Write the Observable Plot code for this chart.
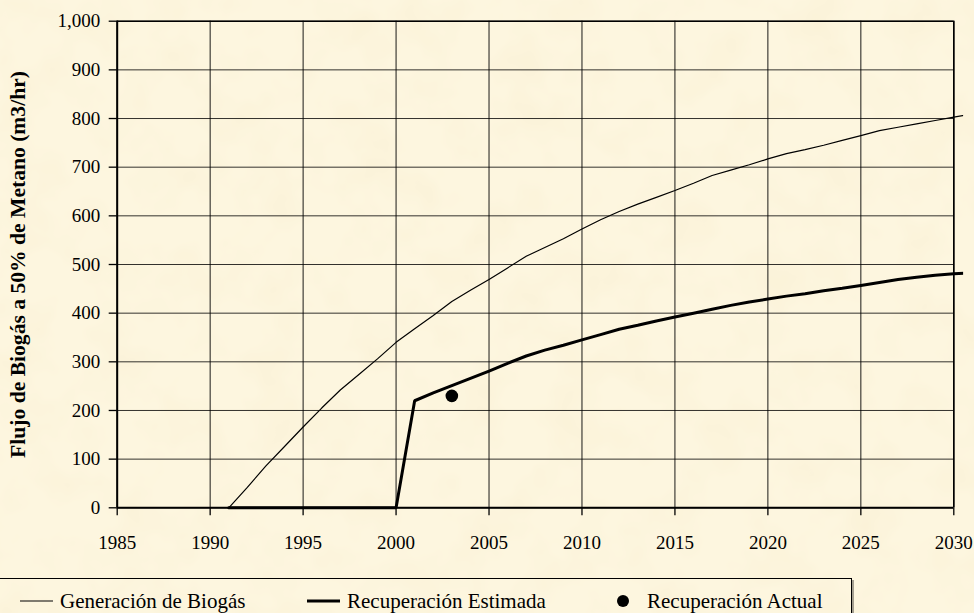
<!DOCTYPE html>
<html>
<head>
<meta charset="utf-8">
<script src="https://cdn.jsdelivr.net/npm/d3@7"></script>
<script src="https://cdn.jsdelivr.net/npm/@observablehq/plot@0.6"></script>
<style>
  html, body { margin: 0; padding: 0; }
  body {
    width: 974px; height: 613px; overflow: hidden; position: relative;
    background-color: #fdf6df;
    background-image: url("data:image/svg+xml;utf8,<svg xmlns='http://www.w3.org/2000/svg' width='974' height='613'><filter id='n'><feTurbulence type='fractalNoise' baseFrequency='0.02' numOctaves='3' seed='7'/><feColorMatrix values='0 0 0 0 0.88  0 0 0 0 0.76  0 0 0 0 0.50  0.4 0 0 0 -0.17'/></filter><rect width='100%' height='100%' filter='url(%23n)'/></svg>");
    font-family: "Liberation Serif", "Times New Roman", serif;
  }
  #chart { position: absolute; left: 0; top: 0; }
  #legend {
    position: absolute; left: -1px; top: 578px; width: 851px; height: 60px;
    border: 1px solid #000; box-shadow: 2px 2px 0 rgba(0,0,0,0.35);
  }
  #legend svg { position: absolute; left: 0; top: -1px; overflow: visible; }
</style>
</head>
<body>
<div id="chart"></div>
<div id="legend"></div>
<script>
// ---- data ----
const years = [1991,1992,1993,1994,1995,1996,1997,1998,1999,2000,
               2001,2002,2003,2004,2005,2006,2007,2008,2009,2010,
               2011,2012,2013,2014,2015,2016,2017,2018,2019,2020,
               2021,2022,2023,2024,2025,2026,2027,2028,2029,2030,2031];
const generacionBiogas = [0,42,86,126,166,205,242,274,306,340,
                          368,395,424,447,469,493,517,535,553,573,
                          592,609,624,638,652,667,683,694,705,717,
                          728,736,745,755,765,775,782,789,796,803,809];
const recuperacionEstimada = [0,0,0,0,0,0,0,0,0,0,
                              220,236,251,266,281,297,312,324,334,345,
                              356,367,375,384,392,400,408,416,423,429,
                              435,440,446,451,457,463,469,474,478,481,483];
const actualYears = [2003];
const actualValues = [230];
const xTicks = [1985,1990,1995,2000,2005,2010,2015,2020,2025,2030];
const yTicks = [0,100,200,300,400,500,600,700,800,900,1000];
const seriesLabels = ["Generación de Biogás", "Recuperación Estimada", "Recuperación Actual"];
const yTitle = ["Flujo de Biogás a 50% de Metano (m3/hr)"];

const genData = years.map((y, i) => ({year: y, value: generacionBiogas[i]}));
const recData = years.map((y, i) => ({year: y, value: recuperacionEstimada[i]}));
const actData = actualYears.map((y, i) => ({year: y, value: actualValues[i]}));

const W = 974, H = 575;
const mL = 116.7, mR = 20.7, mT = 20.7, mB = H - 507.3;

const plot = Plot.plot({
  width: W, height: H,
  marginLeft: mL, marginRight: mR, marginTop: mT, marginBottom: mB,
  style: {background: "transparent", fontFamily: "'Liberation Serif', 'Times New Roman', serif", fontSize: "19px", color: "#000", overflow: "visible"},
  x: {domain: [1985, 2030], label: null},
  y: {domain: [0, 1000], label: null},
  marks: [
    Plot.gridX(xTicks, {stroke: "#000", strokeOpacity: 0.9, strokeWidth: 1}),
    Plot.gridY(yTicks, {stroke: "#000", strokeOpacity: 0.8, strokeWidth: 1}),
    Plot.axisX(xTicks, {tickSize: 8, tickPadding: 20, tickFormat: d => String(d), fontSize: 19, stroke: "#000", strokeWidth: 1.3}),
    Plot.axisY(yTicks, {tickSize: 8, tickPadding: 9, tickFormat: d3.format(","), fontSize: 19, stroke: "#000", strokeWidth: 1.3}),
    Plot.ruleY([1000], {stroke: "#000", strokeWidth: 1.6}),
    Plot.ruleX([2030], {stroke: "#000", strokeWidth: 1.6}),
    Plot.ruleX([1985], {stroke: "#000", strokeWidth: 2}),
    Plot.ruleY([0], {stroke: "#000", strokeWidth: 2}),
    Plot.line(genData, {x: "year", y: "value", stroke: "#000", strokeWidth: 1.2}),
    Plot.line(recData, {x: "year", y: "value", stroke: "#000", strokeWidth: 3, strokeLinejoin: "miter"}),
    Plot.dot(actData, {x: "year", y: "value", r: 6.3, fill: "#000", stroke: null}),
    Plot.text(yTitle, {text: d => d, frameAnchor: "left", rotate: -90, dx: 24 - mL, lineAnchor: "bottom", textAnchor: "middle", fontWeight: "bold", fontSize: 21.6, fill: "#000"})
  ]
});
document.getElementById("chart").appendChild(plot);

// clip the two lines just past the right edge of the frame
const svg = d3.select(plot);
const xs = plot.scale("x");
const clipRight = xs.apply(2030.5);
svg.append("defs").append("clipPath").attr("id", "lineclip")
  .append("rect").attr("x", mL - 2).attr("y", 0).attr("width", clipRight - mL + 2).attr("height", H);
svg.selectAll('g[aria-label="line"]').attr("clip-path", "url(#lineclip)");

// ---- legend ----
const lg = d3.select("#legend").append("svg").attr("width", 851).attr("height", 40);
lg.append("line").attr("x1", 20).attr("x2", 53).attr("y1", 23).attr("y2", 23).attr("stroke", "#000").attr("stroke-width", 1.2);
lg.append("text").attr("x", 60).attr("y", 30).attr("font-size", 21).attr("font-family", "'Liberation Serif', serif").text(seriesLabels[0]);
lg.append("line").attr("x1", 307).attr("x2", 340).attr("y1", 23).attr("y2", 23).attr("stroke", "#000").attr("stroke-width", 3);
lg.append("text").attr("x", 347).attr("y", 30).attr("font-size", 21).attr("font-family", "'Liberation Serif', serif").text(seriesLabels[1]);
lg.append("circle").attr("cx", 623).attr("cy", 23).attr("r", 6).attr("fill", "#000");
lg.append("text").attr("x", 647).attr("y", 30).attr("font-size", 21).attr("font-family", "'Liberation Serif', serif").text(seriesLabels[2]);
</script>
</body>
</html>
